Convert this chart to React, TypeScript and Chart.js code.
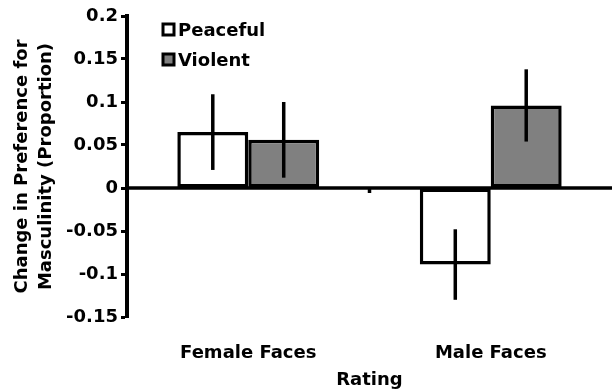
import React, { useEffect, useRef } from "react";
import { Chart, registerables } from "chart.js";

Chart.register(...registerables);

const categories = ["Female Faces", "Male Faces"];
const seriesNames = ["Peaceful", "Violent"];
const peaceful = [0.065, -0.089];
const violent = [0.056, 0.096];
const peacefulErr = [0.044, 0.041];
const violentErr = [0.044, 0.042];
const yTicks = [0.2, 0.15, 0.1, 0.05, 0, -0.05, -0.1, -0.15];

const FONT = "'DejaVu Sans', sans-serif";

const errorBarPlugin = {
  id: "errorBars",
  afterDatasetsDraw(chart: any) {
    const { ctx, chartArea } = chart;
    const y = chart.scales.y;
    const x = chart.scales.x;
    const errs = [peacefulErr, violentErr];
    ctx.save();
    ctx.strokeStyle = "#000";
    ctx.lineWidth = 3.5;
    chart.data.datasets.forEach((ds: any, di: number) => {
      const meta = chart.getDatasetMeta(di);
      meta.data.forEach((el: any, i: number) => {
        const v = ds.data[i];
        const e = errs[di][i];
        ctx.beginPath();
        ctx.moveTo(el.x, y.getPixelForValue(v + e));
        ctx.lineTo(el.x, y.getPixelForValue(v - e));
        ctx.stroke();
      });
    });
    const y0 = y.getPixelForValue(0);
    ctx.beginPath();
    ctx.moveTo(chartArea.left, y0);
    ctx.lineTo(chartArea.right, y0);
    ctx.stroke();
    for (let i = 1; i < categories.length; i++) {
      const bx = (x.getPixelForValue(i - 1) + x.getPixelForValue(i)) / 2;
      ctx.beginPath();
      ctx.moveTo(bx, y0);
      ctx.lineTo(bx, y0 + 5);
      ctx.stroke();
    }
    ctx.restore();
  },
};

const legendPlugin = {
  id: "insideLegend",
  afterDraw(chart: any) {
    const { ctx, chartArea } = chart;
    ctx.save();
    ctx.font = `bold 18px ${FONT}`;
    ctx.textBaseline = "middle";
    chart.data.datasets.forEach((ds: any, i: number) => {
      const bx = chartArea.left + 36;
      const by = chartArea.top + 14 + i * 30;
      ctx.fillStyle = ds.backgroundColor;
      ctx.fillRect(bx, by - 6, 11, 11);
      ctx.strokeStyle = "#000";
      ctx.lineWidth = 3;
      ctx.strokeRect(bx, by - 6, 11, 11);
      ctx.fillStyle = "#000";
      ctx.fillText(ds.label, bx + 15, by + 1);
    });
    ctx.restore();
  },
};

export default function App() {
  const ref = useRef<HTMLCanvasElement>(null);
  useEffect(() => {
    document.body.style.margin = "0";
    const chart = new Chart(ref.current!, {
      type: "bar",
      data: {
        labels: categories,
        datasets: [
          {
            label: seriesNames[0],
            data: peaceful,
            backgroundColor: "#ffffff",
            borderColor: "#000000",
            borderWidth: 3.5,
            borderSkipped: false,
          },
          {
            label: seriesNames[1],
            data: violent,
            backgroundColor: "#808080",
            borderColor: "#000000",
            borderWidth: 3.5,
            borderSkipped: false,
          },
        ],
      },
      options: {
        animation: false,
        responsive: false,
        layout: { padding: { top: 16, right: 0, left: 10, bottom: 0 } },
        datasets: { bar: { categoryPercentage: 0.585, barPercentage: 1 } },
        plugins: { legend: { display: false }, tooltip: { enabled: false } },
        scales: {
          x: {
            grid: { display: false },
            border: { display: false },
            afterFit: (s: any) => {
              s.height = 74;
            },
            ticks: { color: "#000", font: { family: FONT, size: 18, weight: "bold" }, padding: 18 },
            title: {
              display: true,
              text: "Rating",
              color: "#000",
              font: { family: FONT, size: 18, weight: "bold" },
              padding: { top: 8, bottom: 0 },
            },
          },
          y: {
            min: -0.15,
            max: 0.2,
            afterBuildTicks: (s: any) => {
              s.ticks = yTicks.map((v) => ({ value: v }));
            },
            afterFit: (s: any) => {
              s.width = 117;
            },
            border: { display: true, color: "#000", width: 4 },
            grid: { display: true, drawOnChartArea: false, drawTicks: true, tickLength: 6, tickColor: "#000", tickWidth: 3 },
            ticks: {
              color: "#000",
              padding: 3,
              font: { family: FONT, size: 18, weight: "bold" },
              callback: (v: any) => String(Math.round(Number(v) * 100) / 100),
            },
            title: {
              display: true,
              text: ["Change in Preference for", "Masculinity (Proportion)"],
              color: "#000",
              font: { family: FONT, size: 18, weight: "bold", lineHeight: 1.33 },
              padding: 0,
            },
          },
        },
      },
      plugins: [errorBarPlugin, legendPlugin],
    });
    return () => chart.destroy();
  }, []);
  return <canvas ref={ref} width={612} height={391} style={{ display: "block" }} />;
}
